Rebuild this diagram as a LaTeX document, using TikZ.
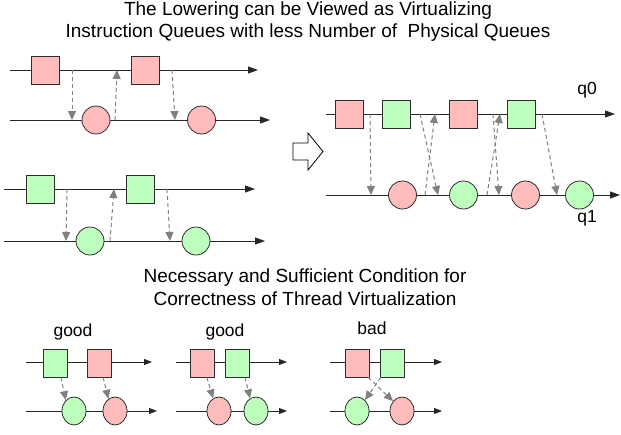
\documentclass[tikz,border=0pt]{standalone}
\usepackage{fontspec}
\setmainfont{Liberation Sans}
\usetikzlibrary{arrows.meta,shapes.geometric}
\definecolor{pinkf}{RGB}{255,188,188}
\definecolor{greenf}{RGB}{190,255,190}
\definecolor{edgec}{RGB}{45,45,45}
\begin{document}
\begin{tikzpicture}[x=1pt,y=-1pt,
 tl/.style={draw=black!85, line width=0.9pt, -{Triangle[length=10pt,width=7pt]}},
 tls/.style={draw=black!85, line width=0.9pt, -{Triangle[length=8pt,width=6pt]}},
 sqr/.style={draw=edgec, line width=0.8pt, minimum width=28pt, minimum height=28pt, inner sep=0pt},
 rsq/.style={sqr, fill=pinkf}, gsq/.style={sqr, fill=greenf},
 crc/.style={draw=edgec, ellipse, line width=0.8pt, minimum width=28pt, minimum height=28pt, inner sep=0pt},
 rc/.style={crc, fill=pinkf}, gc/.style={crc, fill=greenf},
 small/.style={minimum width=24pt},
 dep/.style={draw=black!50, dash pattern=on 4pt off 3pt, line width=1pt, -{Triangle[length=9pt,width=8pt]}},
 ttl/.style={font=\fontsize{19}{22}\selectfont, anchor=base, inner sep=0pt},
 lbl/.style={font=\fontsize{17.5}{20}\selectfont, anchor=base, inner sep=0pt}]
\useasboundingbox (0,0) rectangle (621,434);
% titles
\node[ttl] (t1) at (308,15) {The Lowering can be Viewed as Virtualizing};
\node[ttl] (t1b) at (308,37) {Instruction Queues with less Number of \ Physical Queues};
\node[ttl] (t2) at (305,282) {Necessary and Sufficient Condition for};
\node[ttl] (t2b) at (305,305) {Correctness of Thread Virtualization};
% ---------- top-left red ----------
\coordinate (a0) at (10,70); \coordinate (a1) at (258,70);
\coordinate (b0) at (10,120); \coordinate (b1) at (270,120);
\draw[tl] (a0) -- (a1);
\draw[tl] (b0) -- (b1);
\node[rsq] (ra1) at (45,70) {};
\node[rsq] (ra2) at (145,70) {};
\node[rc] (rb1) at (96,120) {};
\node[rc] (rb2) at (201.5,120) {};
\coordinate (p1) at (72,70); \coordinate (q1) at (72,120);
\coordinate (p2) at (117,70); \coordinate (q2) at (115,120);
\coordinate (p3) at (172,70); \coordinate (q3) at (175,120);
\draw[dep] (p1) -- (q1);
\draw[dep] (q2) -- (p2);
\draw[dep] (p3) -- (q3);
% ---------- top-left green ----------
\coordinate (c0) at (4,189); \coordinate (c1) at (255,189);
\coordinate (d0) at (4,241); \coordinate (d1) at (265,241);
\draw[tl] (c0) -- (c1);
\draw[tl] (d0) -- (d1);
\node[gsq] (gc1) at (40,189) {};
\node[gsq] (gc2) at (140,189) {};
\node[gc] (gd1) at (90,241) {};
\node[gc] (gd2) at (196,241) {};
\coordinate (p4) at (67,189); \coordinate (q4) at (66,241);
\coordinate (p5) at (114,189); \coordinate (q5) at (110,241);
\coordinate (p6) at (167,189); \coordinate (q6) at (170,241);
\draw[dep] (p4) -- (q4);
\draw[dep] (q5) -- (p5);
\draw[dep] (p6) -- (q6);
% ---------- hollow arrow ----------
\draw[line width=0.8pt, fill=white] (293,143) -- (308,143) -- (308,133) -- (323,151.5) -- (308,170) -- (308,160) -- (293,160) -- cycle;
% ---------- right merged ----------
\coordinate (e0) at (326,114); \coordinate (e1) at (615,114);
\coordinate (f0) at (326,195); \coordinate (f1) at (620,195);
\draw[tl] (e0) -- (e1);
\draw[tl] (f0) -- (f1);
\node[rsq] (m1) at (349,114) {};
\node[gsq] (m2) at (396,114) {};
\node[rsq] (m3) at (463,114) {};
\node[gsq] (m4) at (521,114) {};
\node[rc] (n1) at (402.5,195) {};
\node[gc] (n2) at (463.5,195) {};
\node[rc] (n3) at (525.5,195) {};
\node[gc] (n4) at (579.5,195) {};
\node[lbl] (q0l) at (587,94) {q0};
\node[lbl] (q1l) at (587,222) {q1};
\coordinate (u1) at (370,114); \coordinate (v1) at (371,195);
\coordinate (u2) at (420,114); \coordinate (v2) at (438,195);
\coordinate (u3) at (435,114); \coordinate (v3) at (425,195);
\coordinate (u4) at (500,114); \coordinate (v4) at (487,195);
\coordinate (u5) at (493,114); \coordinate (v5) at (499,195);
\coordinate (u6) at (542,114); \coordinate (v6) at (557,195);
\draw[dep] (u1) -- (v1);
\draw[dep] (u2) -- (v2);
\draw[dep] (v3) -- (u3);
\draw[dep] (v4) -- (u4);
\draw[dep] (u5) -- (v5);
\draw[dep] (u6) -- (v6);
% ---------- bottom group 1 (good) ----------
\node[lbl] (g1) at (73,336) {good};
\coordinate (h0) at (26,362); \coordinate (h1) at (152,362);
\coordinate (k0) at (26,411); \coordinate (k1) at (157,411);
\draw[tls] (h0) -- (h1);
\draw[tls] (k0) -- (k1);
\node[gsq,small] (s11) at (55.7,363) {};
\node[rsq,small] (s12) at (99,363) {};
\node[gc,small] (c11) at (74,411) {};
\node[rc,small] (c12) at (115,411) {};
\draw[dep] (s11.-70) -- (c11.127);
\draw[dep] (s12.-74) -- (c12.118);
% ---------- bottom group 2 (good) ----------
\node[lbl] (g2) at (225,336) {good};
\coordinate (h2) at (176,362); \coordinate (h3) at (287,362);
\coordinate (k2) at (176,411); \coordinate (k3) at (287,411);
\draw[tls] (h2) -- (h3);
\draw[tls] (k2) -- (k3);
\node[rsq,small] (s21) at (202.7,363) {};
\node[gsq,small] (s22) at (237.7,363) {};
\node[rc,small] (c21) at (219,411) {};
\node[gc,small] (c22) at (256,411) {};
\draw[dep] (s21.-74) -- (c21.115);
\draw[dep] (s22.-63) -- (c22.115);
% ---------- bottom group 3 (bad) ----------
\node[lbl] (g3) at (372,334) {bad};
\coordinate (h4) at (330,362); \coordinate (h5) at (442,362);
\coordinate (k4) at (330,411); \coordinate (k5) at (442,411);
\draw[tls] (h4) -- (h5);
\draw[tls] (k4) -- (k5);
\node[rsq,small] (s31) at (357,363) {};
\node[gsq,small] (s32) at (392,363) {};
\node[gc,small] (c31) at (357,411) {};
\node[rc,small] (c32) at (402,411) {};
\draw[dep] (s31.-52) -- (c32.132);
\draw[dep] (s32.-128) -- (c31.54);
\end{tikzpicture}
\end{document}
